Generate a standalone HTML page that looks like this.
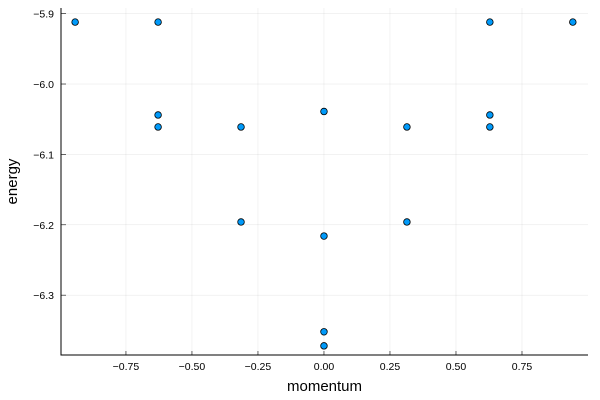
<!DOCTYPE html>
<html><head><meta charset="utf-8"><style>
body{margin:0;background:#fff;}
svg{display:block;font-family:"Liberation Sans",sans-serif;}
</style></head><body>
<svg id="chart" width="600" height="400"></svg>
<script>
const xTicks=[-0.75,-0.5,-0.25,0,0.25,0.5,0.75];
const xTickLabels=["\u22120.75","\u22120.50","\u22120.25","0.00","0.25","0.50","0.75"];
const yTicks=[-6.3,-6.2,-6.1,-6.0,-5.9];
const yTickLabels=["\u22126.3","\u22126.2","\u22126.1","\u22126.0","\u22125.9"];
const momentum=[-0.9425,-0.6283,0.6283,0.9425,-0.6283,-0.6283,-0.3142,0,0.3142,0.6283,0.6283,-0.3142,0.3142,0,0,0];
const energy=[-5.912,-5.912,-5.912,-5.912,-6.044,-6.061,-6.061,-6.039,-6.061,-6.044,-6.061,-6.196,-6.196,-6.216,-6.352,-6.372];
const L=61,R=588,T=8,B=355;
const xMin=-0.996,xMax=1.0,yMin=-6.385,yMax=-5.892;
const sx=v=>L+(v-xMin)/(xMax-xMin)*(R-L);
const sy=v=>B-(v-yMin)/(yMax-yMin)*(B-T);
const svg=document.getElementById('chart');
const NS='http://www.w3.org/2000/svg';
function mk(t,a,p){const e=document.createElementNS(NS,t);for(const k in a)e.setAttribute(k,a[k]);(p||svg).appendChild(e);return e;}
xTicks.forEach((v,i)=>{
  const g=mk('line',{x1:sx(v),x2:sx(v),y1:T,y2:B,stroke:'#000','stroke-opacity':0.1,'stroke-width':0.5});
  
  
  const tk=mk('line',{x1:sx(v),x2:sx(v),y1:B,y2:B-4,stroke:'#000','stroke-width':0.6});
  
  
  const t=mk('text',{x:sx(v),y:B+15,'font-size':10.5,'text-anchor':'middle'});
  t.textContent=xTickLabels[i];
  
  
});
yTicks.forEach((v,i)=>{
  const g=mk('line',{x1:L,x2:R,y1:sy(v),y2:sy(v),stroke:'#000','stroke-opacity':0.1,'stroke-width':0.5});
  
  
  const tk=mk('line',{x1:L,x2:L+5,y1:sy(v),y2:sy(v),stroke:'#000','stroke-width':0.6});
  
  
  const t=mk('text',{x:L-7,y:sy(v)+4,'font-size':10.5,'text-anchor':'end'});
  t.textContent=yTickLabels[i];
  
  
});
const ax=mk('path',{d:`M${L},${T} V${B} H${R}`,fill:'none',stroke:'#000','stroke-width':1});


momentum.forEach((m,i)=>{
  const c=mk('circle',{cx:sx(m),cy:sy(energy[i]),r:3.3,fill:'#009AFA',stroke:'#000','stroke-width':0.8});
  
  
});
const xt=mk('text',{x:(L+R)/2,y:391,'font-size':15,'text-anchor':'middle'});
xt.textContent='momentum';


const yt=mk('text',{x:17,y:(T+B)/2,'font-size':15,'text-anchor':'middle',transform:`rotate(-90 17 ${(T+B)/2})`});
yt.textContent='energy';


</script>
</body></html>
